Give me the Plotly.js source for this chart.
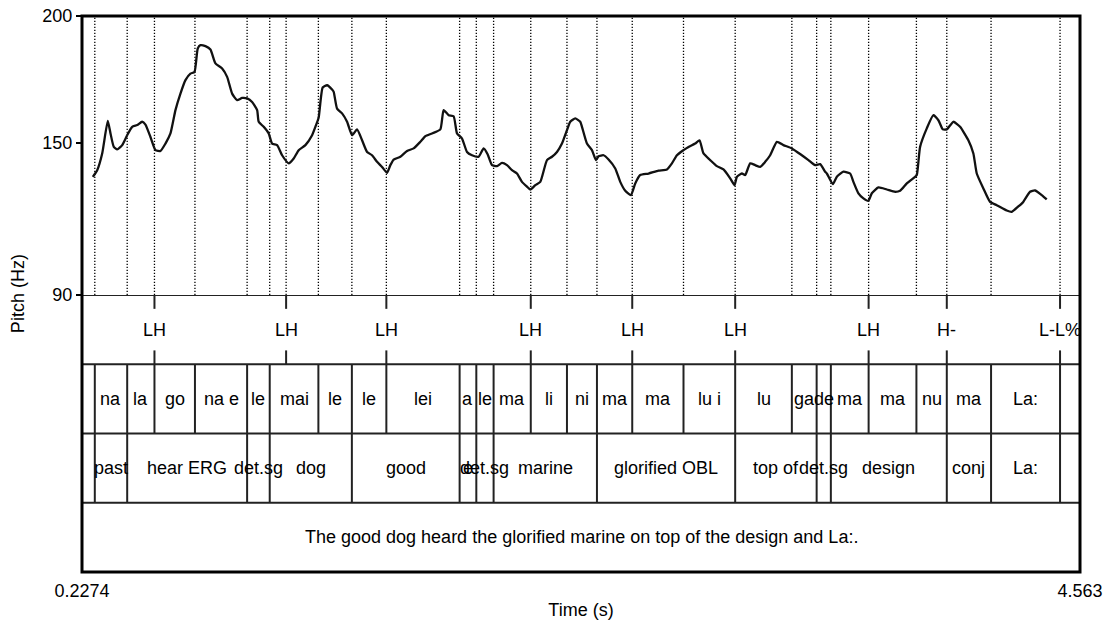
<!DOCTYPE html>
<html>
<head>
<meta charset="utf-8">
<script src="https://cdn.plot.ly/plotly-3.0.1.min.js"></script>
<style>
  html, body { margin: 0; padding: 0; background: #fff; }
  #chart { width: 1103px; height: 622px; }
</style>
</head>
<body>
<div id="chart"></div>
<script>
// Time span of the utterance (s)
const tStart = 0.2274;
const tEnd = 4.563;

// F0 track
const pitchTime = [
  0.2743, 0.2934, 0.3151, 0.3394, 0.3512, 0.3655, 0.3802, 0.4020, 0.4237, 0.4454,
  0.4671, 0.4888, 0.5031, 0.5248, 0.5466, 0.5683, 0.5900, 0.6117, 0.6334, 0.6551,
  0.6768, 0.6985, 0.7159, 0.7302, 0.7420, 0.7637, 0.7854, 0.8071, 0.8362, 0.8579,
  0.8796, 0.9013, 0.9230, 0.9447, 0.9664, 0.9882, 0.9951, 1.0168, 1.0385, 1.0533,
  1.0750, 1.0967, 1.1254, 1.1471, 1.1688, 1.1979, 1.2270, 1.2413, 1.2556, 1.2730,
  1.2921, 1.3138, 1.3208, 1.3355, 1.3572, 1.3790, 1.4007, 1.4224, 1.4441, 1.4658,
  1.4875, 1.5092, 1.5309, 1.5527, 1.5670, 1.5813, 1.6104, 1.6395, 1.6681, 1.6972,
  1.7189, 1.7480, 1.7841, 1.7984, 1.8201, 1.8418, 1.8566, 1.8783, 1.9000, 1.9217,
  1.9504, 1.9721, 1.9895, 2.0086, 2.0303, 2.0520, 2.0737, 2.0954, 2.1171, 2.1388,
  2.1605, 2.1749, 2.1966, 2.2183, 2.2474, 2.2691, 2.2908, 2.3125, 2.3342, 2.3486,
  2.3703, 2.3920, 2.3994, 2.4211, 2.4428, 2.4602, 2.4715, 2.4932, 2.5149, 2.5440,
  2.5657, 2.5874, 2.6121, 2.6308, 2.6525, 2.6886, 2.7320, 2.7685, 2.7902, 2.8119,
  2.8405, 2.8622, 2.8913, 2.9100, 2.9274, 2.9565, 2.9856, 3.0142, 3.0433, 3.0620,
  3.0724, 3.0941, 3.1085, 3.1302, 3.1519, 3.1736, 3.1953, 3.2170, 3.2461, 3.2748,
  3.3112, 3.3546, 3.3833, 3.4124, 3.4341, 3.4558, 3.4632, 3.4893, 3.5067, 3.5353,
  3.5644, 3.5787, 3.6004, 3.6221, 3.6438, 3.6586, 3.6872, 3.7237, 3.7598, 3.7815,
  3.8106, 3.8466, 3.8540, 3.8683, 3.8974, 3.9261, 3.9478, 3.9669, 3.9843, 4.0129,
  4.0420, 4.0780, 4.0998, 4.1145, 4.1432, 4.1723, 4.2014, 4.2448, 4.2665, 4.2951,
  4.3156, 4.3460, 4.3677, 4.3968, 4.4185
];
const pitchHz = [
  136.6, 139.2, 145.8, 158.6, 153.7, 148.4, 147.4, 149.1, 153.0, 156.3,
  157.0, 158.3, 157.2, 152.3, 147.1, 146.8, 149.7, 153.7, 162.9, 169.4,
  174.7, 177.3, 177.9, 187.2, 188.5, 188.1, 186.8, 181.3, 179.3, 176.0,
  169.4, 166.8, 167.7, 167.5, 166.1, 162.9, 158.3, 156.3, 153.7, 149.7,
  149.1, 145.1, 141.9, 143.8, 147.1, 149.1, 153.0, 156.3, 160.0, 171.8,
  172.7, 171.0, 170.1, 163.5, 161.6, 158.3, 153.0, 155.3, 151.0, 146.4,
  145.1, 142.5, 140.5, 138.2, 141.2, 143.4, 144.5, 146.8, 147.8, 150.4,
  152.6, 153.7, 155.3, 162.9, 160.9, 160.5, 153.7, 151.7, 146.4, 145.1,
  144.5, 147.8, 145.5, 141.2, 140.8, 142.1, 141.2, 139.2, 137.9, 134.6,
  132.7, 131.6, 133.3, 134.6, 143.2, 144.5, 146.4, 149.7, 155.0, 158.3,
  159.6, 158.3, 156.3, 149.7, 147.1, 143.2, 144.7, 145.1, 143.4, 139.9,
  134.6, 131.1, 129.4, 134.0, 137.3, 137.9, 139.0, 139.5, 141.9, 145.1,
  147.1, 148.4, 149.7, 151.0, 145.8, 143.2, 140.8, 139.5, 136.0, 133.3,
  136.6, 137.9, 137.3, 141.9, 141.2, 140.5, 142.5, 145.1, 150.4, 149.1,
  147.8, 145.1, 143.2, 141.2, 141.6, 138.6, 137.9, 133.7, 136.6, 138.6,
  137.9, 134.6, 130.1, 128.1, 127.1, 130.1, 132.4, 131.6, 130.7, 131.1,
  134.0, 136.6, 137.3, 148.4, 155.7, 160.9, 158.9, 155.3, 155.3, 158.3,
  156.3, 151.0, 145.8, 137.9, 132.0, 126.7, 125.4, 123.3, 122.8, 124.9,
  126.6, 130.7, 131.2, 129.4, 127.7
];

// Tone tier (points)
const toneTimes = [0.5422, 1.1141, 1.5496, 2.1770, 2.6178, 3.0650, 3.6447, 3.9843, 4.4763];
const toneLabels = ["LH", "LH", "LH", "LH", "LH", "LH", "LH", "H-", "L-L%"];

// Syllable tier (interval boundaries inside the utterance, and one label per interval)
const syllableBounds = [0.2830, 0.4237, 0.5422, 0.7181, 0.9447, 1.0429, 1.2543, 1.3998, 1.5496,
  1.8679, 1.9404, 2.0155, 2.1770, 2.3342, 2.4645, 2.6178, 2.8405, 3.0650, 3.3112, 3.4189,
  3.4806, 3.6447, 3.8523, 3.9843, 4.1766, 4.4763];
const syllableLabels = ["", "na", "la", "go", "na e", "le", "mai", "le", "le", "lei", "a", "le",
  "ma", "li", "ni", "ma", "ma", "lu i", "lu", "ga", "de", "ma", "ma", "nu", "ma", "La:", ""];

// Gloss tier
const glossBounds = [0.2830, 0.4237, 0.9447, 1.0429, 1.3998, 1.8679, 1.9404, 2.0155, 2.4645,
  3.0650, 3.4189, 3.4806, 3.9843, 4.1766, 4.4763];
const glossLabels = ["", "past", "hear ERG", "det.sg", "dog", "good", "e", "det.sg", "marine",
  "glorified OBL", "top of", "det.sg", "design", "conj", "La:", ""];

// Translation tier
const translationLabel = "The good dog heard the glorified marine on top of the design and La:.";

// Axis ticks
const pitchTicks = [90, 150, 200];
const timeTickText = ["0.2274", "4.563"];

const FONT = "'Liberation Sans', Arial, Helvetica, sans-serif";
const TXT = { family: FONT, size: 18, color: "#000" };

// Tier rows on y2: tone 3-4, syllable 2-3, gloss 1-2, translation 0-1
const shapes = [];
const annotations = [];

function intervals(bounds) {
  const b = [tStart, ...bounds, tEnd];
  return b.slice(0, -1).map((s, i) => [s, b[i + 1]]);
}

// dotted guide lines through the pitch panel at every boundary / point
const guideTimes = Array.from(new Set(
  [...syllableBounds, ...glossBounds, ...toneTimes].map(t => t.toFixed(4))
)).map(Number);
guideTimes.forEach(t => shapes.push({
  type: "line", xref: "x", yref: "y", x0: t, x1: t, y0: 90, y1: 200, layer: "below",
  line: { color: "#000", width: 1.3, dash: "1.3px,1.7px" }
}));

// interval boundaries
syllableBounds.forEach(t => shapes.push({
  type: "line", xref: "x", yref: "y2", x0: t, x1: t, y0: 2, y1: 3,
  line: { color: "#222", width: 2 }
}));
glossBounds.forEach(t => shapes.push({
  type: "line", xref: "x", yref: "y2", x0: t, x1: t, y0: 1, y1: 2,
  line: { color: "#222", width: 2 }
}));
// point ticks on the tone tier
toneTimes.forEach(t => {
  shapes.push({ type: "line", xref: "x", yref: "y2", x0: t, x1: t, y0: 3.8, y1: 4, line: { color: "#222", width: 2 } });
  shapes.push({ type: "line", xref: "x", yref: "y2", x0: t, x1: t, y0: 3, y1: 3.2, line: { color: "#222", width: 2 } });
});

// tier separators and frame
[1, 2, 3, 4].forEach(v => shapes.push({
  type: "line", xref: "paper", yref: "y2", x0: 0, x1: 1, y0: v, y1: v,
  line: { color: "#222", width: 2.2 }
}));
shapes.push({
  type: "rect", xref: "paper", yref: "paper", x0: 0, x1: 1, y0: 0, y1: 1,
  line: { color: "#000", width: 3 }
});

// tier labels
toneTimes.forEach((t, i) => annotations.push({
  x: t, y: 3.5, xref: "x", yref: "y2", text: toneLabels[i], showarrow: false, font: TXT
}));
intervals(syllableBounds).forEach(([a, b], i) => {
  if (syllableLabels[i]) annotations.push({
    x: (a + b) / 2, y: 2.5, xref: "x", yref: "y2", text: syllableLabels[i], showarrow: false, font: TXT
  });
});
intervals(glossBounds).forEach(([a, b], i) => {
  if (glossLabels[i]) annotations.push({
    x: (a + b) / 2, y: 1.5, xref: "x", yref: "y2", text: glossLabels[i], showarrow: false, font: TXT
  });
});
annotations.push({
  x: (tStart + tEnd) / 2, y: 0.5, xref: "x", yref: "y2", text: translationLabel, showarrow: false, font: TXT
});
// vertical axis title, centred on the whole frame
annotations.push({
  x: -0.064, y: 0.5, xref: "paper", yref: "paper", xanchor: "center", yanchor: "middle",
  text: "Pitch (Hz)", textangle: -90, showarrow: false, font: TXT
});

const pitchTrace = {
  type: "scatter", mode: "lines", x: pitchTime, y: pitchHz, xaxis: "x", yaxis: "y",
  line: { color: "#111", width: 2.3, shape: "spline", smoothing: 0.5 },
  hoverinfo: "x+y"
};

const layout = {
  width: 1103, height: 622,
  margin: { l: 82, r: 23, t: 16, b: 50 },
  paper_bgcolor: "#fff", plot_bgcolor: "#fff",
  showlegend: false,
  font: TXT,
  xaxis: {
    range: [tStart, tEnd], anchor: "y2",
    tickmode: "array", tickvals: [tStart, tEnd], ticktext: timeTickText,
    ticks: "", showgrid: false, zeroline: false, showline: false,
    ticklabelstandoff: 6,
    title: { text: "Time (s)", font: TXT, standoff: 3 },
    fixedrange: true
  },
  yaxis: {
    domain: [0.4982, 1], range: [90, 200], anchor: "x",
    tickmode: "array", tickvals: pitchTicks,
    ticks: "outside", ticklen: 5, tickwidth: 1.5, tickcolor: "#000",
    showgrid: false, zeroline: false, showline: false, fixedrange: true
  },
  yaxis2: {
    domain: [0, 0.4982], range: [0, 4], anchor: "x", visible: false, fixedrange: true
  },
  shapes: shapes,
  annotations: annotations
};

Plotly.newPlot("chart", [pitchTrace], layout, { displayModeBar: false, staticPlot: true });
</script>
</body>
</html>
